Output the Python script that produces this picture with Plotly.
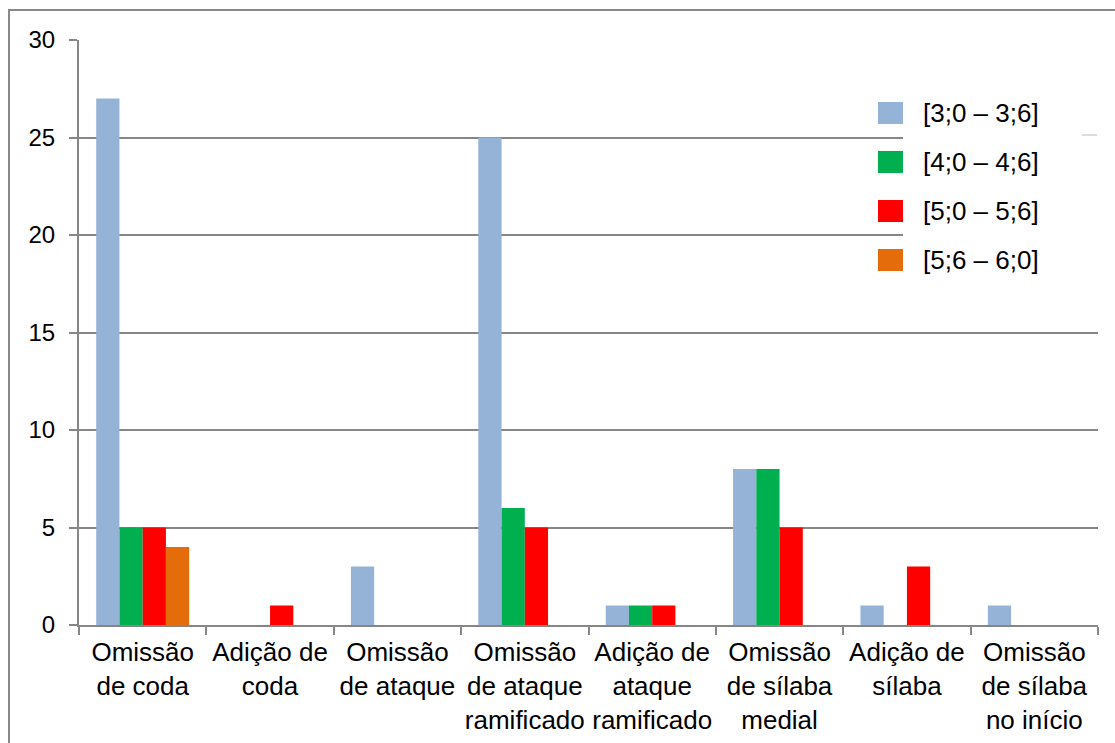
import plotly.graph_objects as go

categories = [
    "Omissão<br>de coda",
    "Adição de<br>coda",
    "Omissão<br>de ataque",
    "Omissão<br>de ataque<br>ramificado",
    "Adição de<br>ataque<br>ramificado",
    "Omissão<br>de sílaba<br>medial",
    "Adição de<br>sílaba",
    "Omissão<br>de sílaba<br>no início",
]
series_names = ["[3;0 – 3;6]", "[4;0 – 4;6]", "[5;0 – 5;6]", "[5;6 – 6;0]"]
values_3_0 = [27, 0, 3, 25, 1, 8, 1, 1]
values_4_0 = [5, 0, 0, 6, 1, 8, 0, 0]
values_5_0 = [5, 1, 0, 5, 1, 5, 3, 0]
values_5_6 = [4, 0, 0, 0, 0, 0, 0, 0]
series_values = [values_3_0, values_4_0, values_5_0, values_5_6]
colors = ["#95B3D7", "#00B050", "#FF0000", "#E46C0A"]

FONT = "Liberation Sans, Arial, sans-serif"
GRID = "#868686"

W, H = 1115, 743
ML, MR, MT, MB = 79, 17, 40, 118
PW, PH = W - ML - MR, H - MT - MB


def px(x):
    return (x - ML) / PW


def py(y):
    return (H - MB - y) / PH


fig = go.Figure()
for name, vals, col in zip(series_names, series_values, colors):
    fig.add_trace(go.Bar(
        x=categories, y=vals, name=name, showlegend=False,
        marker=dict(color=col, line=dict(width=0)),
    ))

shapes = []
annotations = []
# outer chart border
shapes.append(dict(type="rect", xref="paper", yref="paper",
                   x0=px(9), y0=py(760), x1=px(1130), y1=py(10),
                   line=dict(color="#888888", width=2), fillcolor="rgba(0,0,0,0)", layer="below"))
# legend background (hides gridlines behind the legend text)
shapes.append(dict(type="rect", xref="paper", yref="paper",
                   x0=px(903), y0=py(285), x1=px(1098), y1=py(85),
                   line=dict(width=0), fillcolor="white", layer="above"))
shapes.append(dict(type="line", xref="paper", yref="paper",
                   x0=px(1082), y0=py(135), x1=px(1097), y1=py(135),
                   line=dict(color="#BBBBBB", width=1), layer="above"))
# manual legend entries
for i, (name, col) in enumerate(zip(series_names, colors)):
    cy = 113 + 49 * i
    shapes.append(dict(type="rect", xref="paper", yref="paper",
                       x0=px(878), x1=px(903), y0=py(cy + 11), y1=py(cy - 11),
                       line=dict(width=0), fillcolor=col, layer="above"))
    annotations.append(dict(xref="paper", yref="paper", x=px(921), y=py(cy),
                            xanchor="left", yanchor="middle", text=name, showarrow=False,
                            font=dict(family=FONT, size=26, color="black")))

fig.update_layout(
    width=W, height=H,
    margin=dict(l=ML, r=MR, t=MT, b=MB, autoexpand=False),
    paper_bgcolor="white", plot_bgcolor="white",
    barmode="group", bargap=0.27, bargroupgap=0,
    font=dict(family=FONT, size=24, color="black"),
    showlegend=False,
    shapes=shapes, annotations=annotations,
)
fig.update_xaxes(
    type="category", showgrid=False, showline=True, linecolor=GRID, linewidth=2,
    ticks="outside", tickson="boundaries", ticklen=8, tickcolor=GRID, tickwidth=2,
    tickfont=dict(family=FONT, size=26, color="black"), ticklabelstandoff=3,
    tickangle=0, automargin=False, fixedrange=True,
)
fig.update_yaxes(
    range=[0, 30], dtick=5, showgrid=True, gridcolor=GRID, gridwidth=2,
    showline=True, linecolor=GRID, linewidth=2,
    ticks="outside", ticklen=8, tickcolor=GRID, tickwidth=2,
    tickfont=dict(family=FONT, size=24, color="black"), ticklabelstandoff=9,
    automargin=False, zeroline=False,
)

fig.write_html("out.html")
